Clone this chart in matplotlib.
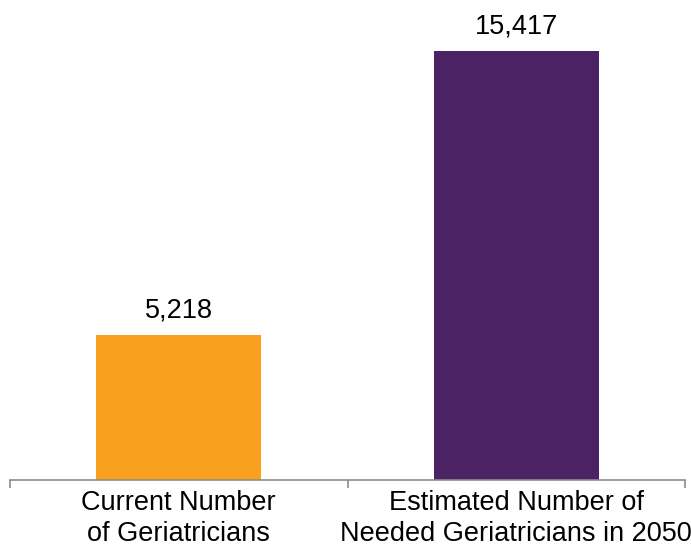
import matplotlib
matplotlib.use("Agg")
import matplotlib.pyplot as plt
from matplotlib.ticker import FixedLocator, NullFormatter

categories = ["Current Number\nof Geriatricians", "Estimated Number of\nNeeded Geriatricians in 2050"]
values = [5218, 15417]
value_labels = ["5,218", "15,417"]
colors = ["#F9A11F", "#4B2364"]

plt.rcParams['font.family'] = ['Liberation Sans', 'DejaVu Sans']

fig = plt.figure(figsize=(6.91, 5.48), dpi=100)
W, H = 691, 548
ax = fig.add_axes([10 / W, 1 - 480 / H, 675 / W, 473 / H])

x = list(range(len(categories)))
ax.bar(x, values, width=0.49, color=colors)
for xi, v, lab in zip(x, values, value_labels):
    ax.annotate(lab, (xi, v), xytext=(0, 8), textcoords="offset points",
                ha="center", va="bottom", fontsize=19.5)

ax.set_xlim(-0.5, len(categories) - 0.5)
ax.set_ylim(0, 17000)
for s in ["top", "right", "left"]:
    ax.spines[s].set_visible(False)
ax.spines["bottom"].set_color("#8C8C8C")
ax.spines["bottom"].set_linewidth(1.2)
ax.set_yticks([])

ax.xaxis.set_major_locator(FixedLocator([-0.5, 0.5, 1.5]))
ax.xaxis.set_major_formatter(NullFormatter())
ax.xaxis.set_minor_locator(FixedLocator(x))
ax.set_xticklabels(categories, minor=True, fontsize=19.5, linespacing=1.25)
ax.tick_params(axis="x", which="major", length=6, width=1.2, color="#8C8C8C")
ax.tick_params(axis="x", which="minor", length=0, pad=7)

fig.savefig("out.png", dpi=100)
